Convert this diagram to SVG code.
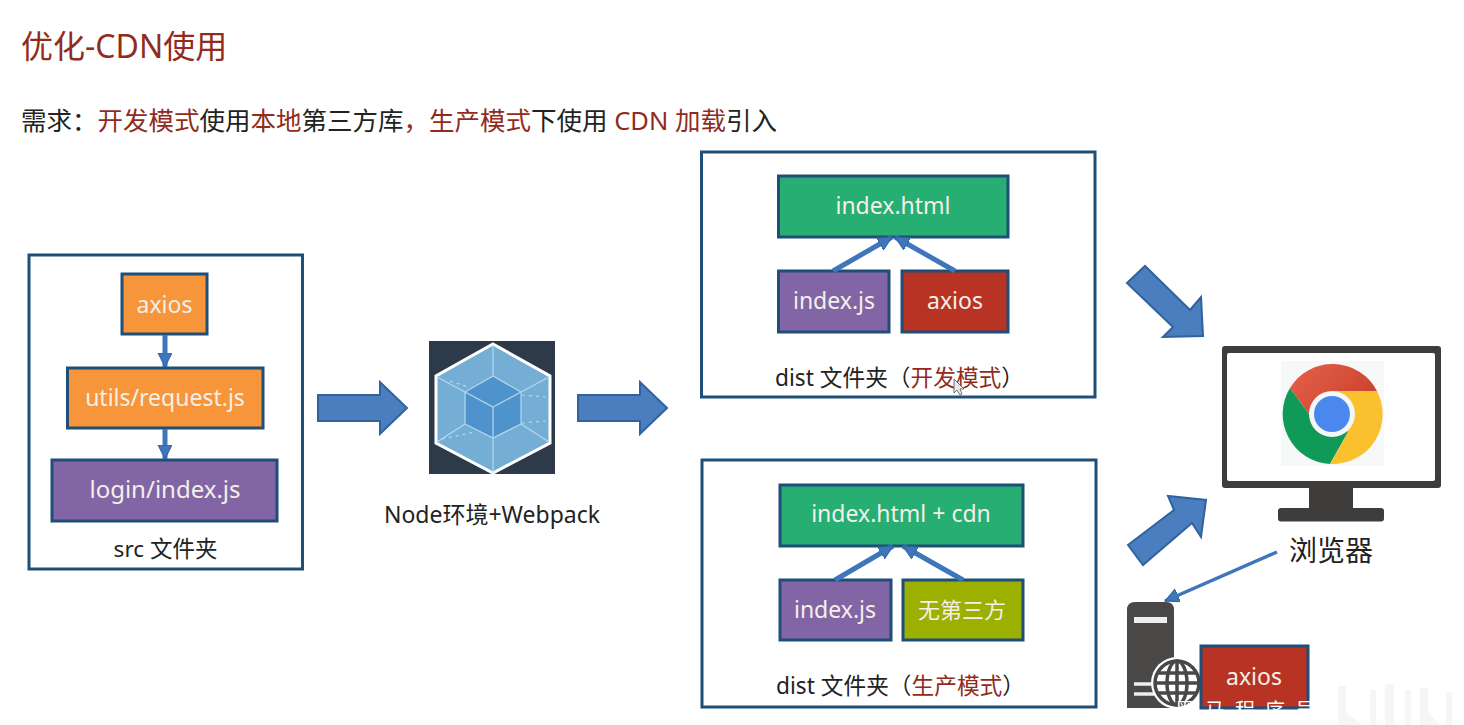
<svg xmlns="http://www.w3.org/2000/svg" xmlns:xlink="http://www.w3.org/1999/xlink" width="1464" height="725" viewBox="0 0 1464 725">
<style>
text{font-family:"Noto Sans","Noto Sans CJK SC",sans-serif}
.c{text-anchor:middle}
.w{fill:#f4f0e8;font-size:23px}
.k{fill:#222;font-size:22.500px}
.r{fill:#922b1c}
.frame{fill:#fff;stroke:#1f4e79;stroke-width:3}
.box{stroke:#1f4e79;stroke-width:3}
.or{fill:#f7953a}.pu{fill:#8165a5}.gr{fill:#27ae73}.re{fill:#b83323}.li{fill:#9bb000}
.big{fill:#4a7ebf;stroke:#2f629e;stroke-width:2}
.thin{fill:none;stroke:#3f76bb;stroke-width:5}
.dk{fill:#3f3c3c}
</style>
<defs>
<path id="bigArrow" d="M0-13H62V-26L89 0 62 26V13H0Z"/>
<marker id="ah" markerUnits="userSpaceOnUse" markerWidth="18" markerHeight="18" refX="14" refY="7" orient="auto"><path d="M0 0L14 7 0 14Z" fill="#3f76bb" stroke="#2f629e" stroke-width="1"/></marker>
<linearGradient id="redg" x1="0" y1="0" x2="1" y2="0.600"><stop offset="0" stop-color="#e8604a"/><stop offset="1" stop-color="#c8432f"/></linearGradient>
</defs>
<rect width="1464" height="725" fill="#fff"/>
<g id="heading">
<text x="21" y="58" font-size="32" class="r">优化-CDN使用</text>
<text x="21" y="130" font-size="25.500" fill="#222">需求：<tspan class="r">开发模式</tspan>使用<tspan class="r">本地</tspan>第三方库<tspan class="r">，生产模式</tspan>下使用 <tspan class="r">CDN 加载</tspan>引入</text>
</g>
<g id="src-folder">
<rect class="frame" x="29" y="255" width="273.500" height="314"/>
<text class="k c" x="165.500" y="557">src 文件夹</text>
</g>
<g id="src-axios"><rect class="box or" x="122" y="274" width="85" height="60"/><text class="w c" x="164.500" y="313">axios</text></g>
<g id="src-utils"><rect class="box or" x="67.500" y="368" width="195.500" height="60"/><text class="w c" x="165" y="406">utils/request.js</text></g>
<g id="src-login"><rect class="box pu" x="52" y="460" width="225" height="61"/><text class="w c" x="165" y="498" style="font-size:24px">login/index.js</text></g>
<g id="webpack">
<rect x="429" y="341" width="126" height="133" fill="#2c3a49"/>
<path d="M493 344L550 376V443L493 473 436 443V376Z" fill="#75aed4" stroke="#fff" stroke-width="3"/>
<path d="M493 376L521 392V424L493 438 465 424V392Z" fill="#4f93cd"/>
<path d="M493 345V376M549 377L521 392M549 442L521 424M493 473V438M437 442L465 424M437 377L465 392M493 376L521 392V424L493 438 465 424V392ZM465 392L493 407 521 392M493 407V438" fill="none" stroke="#b5d8ee" stroke-width="1.200"/>
<path d="M450 381L468 387M522 395L546 397M522 423L546 421M442 439L475 432" fill="none" stroke="#b5d8ee" stroke-width="1.200" stroke-dasharray="3 4"/>
<text class="k c" x="492" y="523" style="font-size:23px">Node环境+Webpack</text>
</g>
<g id="dist-dev">
<rect class="frame" x="701.500" y="152" width="393.500" height="245"/>
<text class="k" x="775" y="386" style="font-size:22.700px">dist 文件夹（<tspan class="r">开发模式</tspan>）</text>
<path d="M954 379L954 393 957 390 960 395 962 394 960 389 964 389Z" fill="#e8e8e8" stroke="#555" stroke-width="0.800"/>
</g>
<g id="dev-html"><rect class="box gr" x="778.500" y="176" width="229.500" height="61"/><text class="w c" x="893" y="214">index.html</text></g>
<g id="dev-js"><rect class="box pu" x="778.500" y="271" width="110.500" height="61"/><text class="w c" x="834" y="309">index.js</text></g>
<g id="dev-axios"><rect class="box re" x="902" y="271" width="106" height="61"/><text class="w c" x="955" y="309">axios</text></g>
<g id="dist-prod">
<rect class="frame" x="702" y="460" width="394" height="247"/>
<text class="k" x="776" y="694" style="font-size:22.700px">dist 文件夹（<tspan class="r">生产模式</tspan>）</text>
</g>
<g id="prod-html"><rect class="box gr" x="780" y="485" width="243" height="61"/><text class="w c" x="901" y="522">index.html + cdn</text></g>
<g id="prod-js"><rect class="box pu" x="780" y="580" width="111" height="60"/><text class="w c" x="835" y="618">index.js</text></g>
<g id="prod-none"><rect class="box li" x="903" y="580" width="120" height="60"/><text class="c" x="962" y="618" fill="#f4f0e8" font-size="22">无第三方</text></g>
<g id="browser">
<rect class="dk" x="1222" y="346" width="219" height="142" rx="3"/>
<rect x="1227" y="353" width="208" height="128" rx="2" fill="#fff"/>
<rect class="dk" x="1309" y="486" width="44" height="24"/>
<rect class="dk" x="1278" y="508" width="106" height="13.500" rx="3"/>
<rect x="1281" y="361" width="103" height="105" fill="#f7f8f8"/>
<path d="M1332 414L1335 391H1377A50 50 0 0 0 1290 388L1311 417Z" fill="url(#redg)"/>
<path d="M1332 414L1311 417 1290 388A50 50 0 0 0 1330 464L1348 432Z" fill="#109a58"/>
<path d="M1332 414L1335 391H1377A50 50 0 0 1 1330 464L1348 432Z" fill="#fbc02d"/>
<circle cx="1332" cy="414" r="23" fill="#f4f6f8"/>
<circle cx="1332" cy="414" r="18" fill="#4a87ee"/>
<text class="c" x="1331" y="561" font-size="28" fill="#222">浏览器</text>
</g>
<g id="server">
<path d="M1127 610Q1127 602 1135 602H1166Q1174 602 1174 610V708H1127Z" fill="#4a4747"/>
<rect x="1134" y="617" width="33" height="6" fill="#eee"/>
<path d="M1134 684H1160M1134 694H1160" stroke="#eee" stroke-width="3.500"/>
<circle cx="1177" cy="683" r="26" fill="#fff"/>
<g fill="none" stroke="#4a4747" stroke-width="3.500"><circle cx="1177" cy="683" r="22"/><ellipse cx="1177" cy="683" rx="10" ry="22"/><path d="M1177 661V705M1157 673H1197M1157 693H1197M1155 683H1199"/></g>
</g>
<g id="cdn-axios"><rect class="box re" x="1201" y="646" width="107" height="62"/><text class="w c" x="1254" y="685">axios</text></g>
<g id="connectors">
<use xlink:href="#bigArrow" class="big" transform="translate(318,408)"/>
<use xlink:href="#bigArrow" class="big" transform="translate(578,408)"/>
<path class="big" d="M1127 283L1145 266 1190 310 1201 297 1203 336 1163 337 1173 327Z"/>
<path class="big" d="M1128 545L1174 510 1168 496 1206 500 1201 537 1192 523 1143 565Z"/>
<path class="thin" marker-end="url(#ah)" d="M165 335V367"/>
<path class="thin" marker-end="url(#ah)" d="M165 429V459"/>
<path class="thin" marker-end="url(#ah)" d="M833 271L892 237"/>
<path class="thin" marker-end="url(#ah)" d="M955 271L895 237"/>
<path class="thin" marker-end="url(#ah)" d="M835 580L893 546"/>
<path class="thin" marker-end="url(#ah)" d="M963 580L903 546"/>
<path class="thin" style="stroke-width:3.500" marker-end="url(#ah)" d="M1277 552L1165 601"/>
</g>
<g id="watermark">
<text x="1175" y="718" font-size="20" letter-spacing="10" fill="#fff">黑马程序员</text>
<path d="M1338 725V686H1346V712L1362 725ZM1370 725V690H1376V725ZM1385 725V684H1394V725ZM1405 725V690H1411V725ZM1420 725V688H1428V712L1440 725ZM1446 725V692H1452V725Z" fill="#f6f6f6"/>
</g>
</svg>
